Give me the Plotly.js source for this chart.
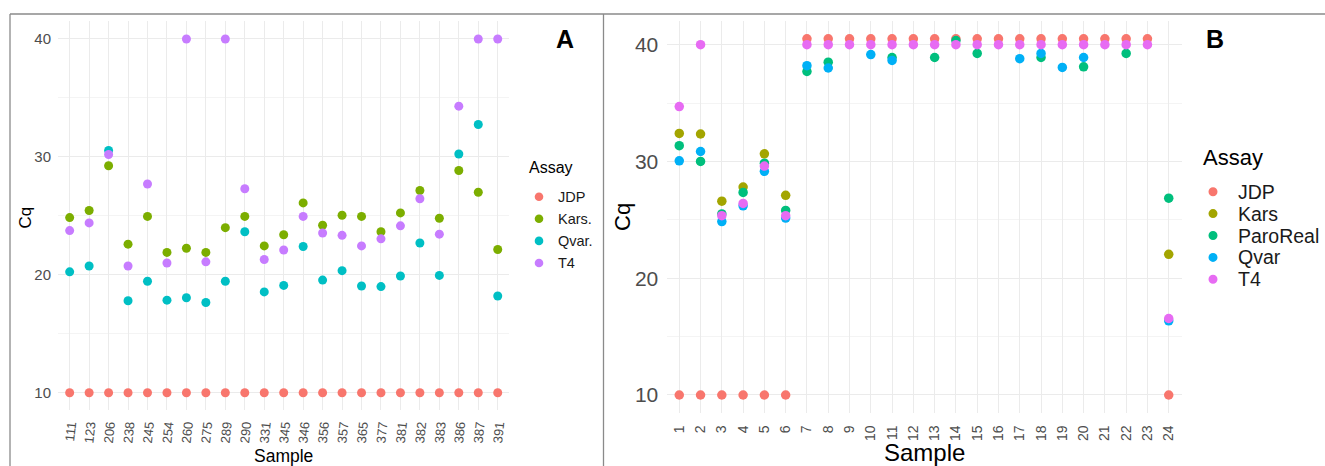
<!DOCTYPE html>
<html>
<head>
<meta charset="utf-8">
<script src="https://cdn.plot.ly/plotly-3.0.1.min.js"></script>
<style>html,body{margin:0;padding:0;background:#fff}#chart{width:1325px;height:466px}</style>
</head>
<body>
<div id="chart"></div>
<script>
// ---------- Panel A data ----------
const samplesA = ["111","123","206","238","245","254","260","275","289","290","331","345","346","356","357","365","377","381","382","383","386","387","391"];
const assaysA = ["JDP","Kars.","Qvar.","T4"];
const colorsA = ["#F8766D","#7CAE00","#00BFC4","#C77CFF"];
const jdpA  = [10,10,10,10,10,10,10,10,10,10,10,10,10,10,10,10,10,10,10,10,10,10,10];
const karsA = [24.85,25.45,29.25,22.6,24.95,21.9,22.25,21.9,24.0,24.95,22.45,23.4,26.1,24.2,25.05,24.95,23.65,25.25,27.15,24.8,28.85,27.0,22.15];
const qvarA = [20.25,20.75,30.55,17.8,19.45,17.85,18.05,17.65,19.45,23.65,18.55,19.1,22.4,19.55,20.35,19.05,19.0,19.9,22.7,19.95,30.25,32.75,18.2];
const t4A   = [23.75,24.4,30.2,20.75,27.7,21.0,40,21.1,40,27.3,21.3,22.1,24.95,23.55,23.35,22.45,23.05,24.15,26.45,23.45,34.3,40,40];
const valuesA = [jdpA, karsA, qvarA, t4A];

// ---------- Panel B data ----------
const samplesB = ["1","2","3","4","5","6","7","8","9","10","11","12","13","14","15","16","17","18","19","20","21","22","23","24"];
const assaysB = ["JDP","Kars","ParoReal","Qvar","T4"];
const colorsB = ["#F8766D","#A3A500","#00BF7D","#00B0F6","#E76BF3"];
const jdpB   = [10,10,10,10,10,10,40.5,40.5,40.5,40.5,40.5,40.5,40.5,40.5,40.5,40.5,40.5,40.5,40.5,40.5,40.5,40.5,40.5,10];
const karsB  = [32.4,32.35,26.6,27.8,30.65,27.1,null,null,null,null,null,null,null,null,null,null,null,null,null,null,null,null,null,22.05];
const paroB  = [31.35,30.0,25.5,27.35,29.85,25.8,37.7,38.5,null,null,38.9,null,38.9,40.35,39.25,null,null,38.9,null,38.1,null,39.25,null,26.85];
const qvarB  = [30.05,30.85,24.85,26.2,29.15,25.15,38.2,38.0,null,39.15,38.65,null,null,null,null,null,38.8,39.25,38.05,38.9,null,null,null,16.35];
const t4B    = [34.7,40,25.35,26.4,29.6,25.35,40,40,40,40,40,40,40,40,40,40,40,40,40,40,40,40,40,16.55];
const valuesB = [jdpB, karsB, paroB, qvarB, t4B];

const W = 1325, H = 466;
const px = v => v / W;
const py = v => 1 - v / H;
const FONT = "Liberation Sans, Arial, sans-serif";
const GRID = "#ebebeb", MINOR = "#f4f4f4", TICKC = "#4d4d4d";

const traces = [];
assaysA.forEach((a, i) => traces.push({
  type: "scatter", mode: "markers", name: a, x: samplesA, y: valuesA[i],
  xaxis: "x", yaxis: "y", marker: {color: colorsA[i], size: 9}, showlegend: false,
  hovertemplate: a + " %{x}: %{y}<extra></extra>"
}));
assaysB.forEach((a, i) => traces.push({
  type: "scatter", mode: "markers", name: a, x: samplesB, y: valuesB[i],
  xaxis: "x2", yaxis: "y2", marker: {color: colorsB[i], size: 9.5}, showlegend: false,
  hovertemplate: a + " %{x}: %{y}<extra></extra>"
}));

const shapes = [];
const annotations = [];

// frame lines
const frameLine = (x0, y0, x1, y1) => shapes.push({type: "line", xref: "paper", yref: "paper",
  x0: px(x0), y0: py(y0), x1: px(x1), y1: py(y1), line: {color: "#8a8a8a", width: 1.3}});
frameLine(10, 14, 1325, 14);
frameLine(10, 14, 10, 466);
frameLine(603.5, 14, 603.5, 466);

// manual legends
function legend(title, names, colors, titleX, titleY, markX, textX, y0, step, tSize, iSize, r) {
  annotations.push({text: title, xref: "paper", yref: "paper", x: px(titleX), y: py(titleY),
    xanchor: "left", yanchor: "middle", showarrow: false, font: {family: FONT, size: tSize, color: "#000"}});
  names.forEach((n, i) => {
    const cy = y0 + i * step;
    shapes.push({type: "circle", xref: "paper", yref: "paper", fillcolor: colors[i], line: {width: 0},
      x0: px(markX - r), x1: px(markX + r), y0: py(cy + r), y1: py(cy - r)});
    annotations.push({text: n, xref: "paper", yref: "paper", x: px(textX), y: py(cy),
      xanchor: "left", yanchor: "middle", showarrow: false, font: {family: FONT, size: iSize, color: "#1a1a1a"}});
  });
}
legend("Assay", assaysA, colorsA, 527, 168, 539, 556, 196.7, 22.1, 16, 14.5, 4.3);
legend("Assay", assaysB, colorsB, 1201, 157, 1213, 1236, 191.7, 21.9, 22, 19.5, 4.5);

// panel labels
annotations.push({text: "<b>A</b>", xref: "paper", yref: "paper", x: px(565), y: py(39.5), showarrow: false,
  xanchor: "center", yanchor: "middle", font: {family: FONT, size: 25, color: "#000"}});
annotations.push({text: "<b>B</b>", xref: "paper", yref: "paper", x: px(1214.5), y: py(39.5), showarrow: false,
  xanchor: "center", yanchor: "middle", font: {family: FONT, size: 25, color: "#000"}});

// axis titles
annotations.push({text: "Cq", xref: "paper", yref: "paper", x: px(25), y: py(217.5), textangle: -90, showarrow: false,
  xanchor: "center", yanchor: "middle", font: {family: FONT, size: 17, color: "#000"}});
annotations.push({text: "Sample", xref: "paper", yref: "paper", x: px(283.5), y: py(455.5), showarrow: false,
  xanchor: "center", yanchor: "middle", font: {family: FONT, size: 17.5, color: "#000"}});
annotations.push({text: "Cq", xref: "paper", yref: "paper", x: px(622), y: py(217), textangle: -90, showarrow: false,
  xanchor: "center", yanchor: "middle", font: {family: FONT, size: 22, color: "#000"}});
annotations.push({text: "Sample", xref: "paper", yref: "paper", x: px(925), y: py(452), showarrow: false,
  xanchor: "center", yanchor: "middle", font: {family: FONT, size: 24, color: "#000"}});

const xCommon = {type: "category", showgrid: true, gridcolor: GRID, gridwidth: 1, zeroline: false, showline: false,
  ticks: "outside", ticklen: 6, tickcolor: "rgba(0,0,0,0)", tickangle: -90, fixedrange: true};
const yCommon = {showgrid: true, gridcolor: GRID, gridwidth: 1, zeroline: false, showline: false,
  ticks: "outside", ticklen: 3, tickcolor: "rgba(0,0,0,0)", tickvals: [10,20,30,40], fixedrange: true,
  minor: {tickvals: [15,25,35], showgrid: true, gridcolor: MINOR, gridwidth: 1, ticks: ""}};

const layout = {
  width: W, height: H, margin: {l: 0, r: 0, t: 0, b: 0},
  paper_bgcolor: "#fff", plot_bgcolor: "#fff", showlegend: false,
  font: {family: FONT},
  xaxis: Object.assign({}, xCommon, {domain: [px(58), px(509.4)], anchor: "y", range: [-0.6, samplesA.length - 0.4],
    tickangle: -84, ticklen: 1, tickfont: {family: FONT, size: 13, color: TICKC}}),
  yaxis: Object.assign({}, yCommon, {domain: [py(410.4), py(21.3)], anchor: "x", range: [8.5, 41.5],
    tickfont: {family: FONT, size: 15, color: TICKC}}),
  xaxis2: Object.assign({}, xCommon, {domain: [px(666.5), px(1181.5)], anchor: "y2", range: [-0.6, samplesB.length - 0.4],
    tickfont: {family: FONT, size: 14, color: TICKC}}),
  yaxis2: Object.assign({}, yCommon, {domain: [py(412.8), py(21)], anchor: "x2", range: [8.475, 42.025],
    tickfont: {family: FONT, size: 21, color: TICKC}}),
  shapes: shapes, annotations: annotations
};

Plotly.newPlot("chart", traces, layout, {displayModeBar: false, staticPlot: true});
</script>
</body>
</html>
